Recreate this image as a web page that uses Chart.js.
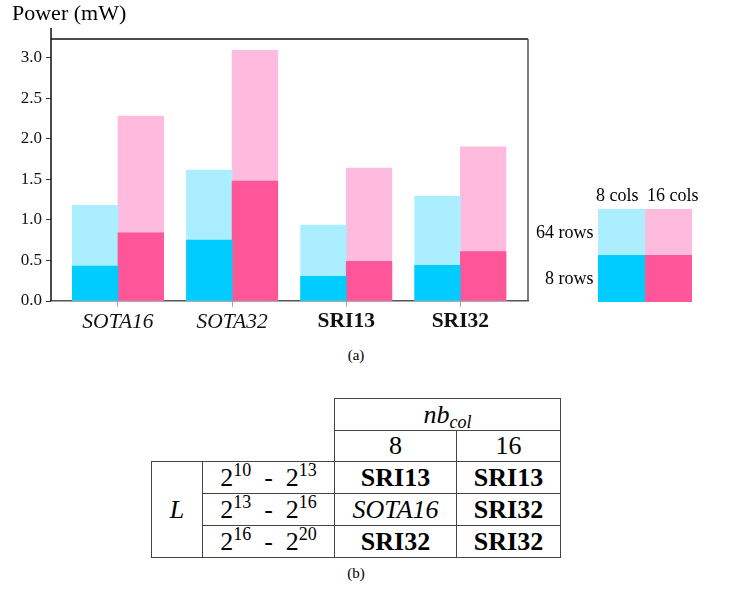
<!DOCTYPE html>
<html>
<head>
<meta charset="utf-8">
<script src="https://cdn.jsdelivr.net/npm/chart.js@4.4.1/dist/chart.umd.min.js"></script>
<style>
  body { margin: 0; width: 730px; height: 599px; background: #fff; position: relative; overflow: hidden; }
  #chart { position: absolute; left: 0; top: 0; }
  .txt { position: absolute; white-space: nowrap; font-family: 'Liberation Serif'; }
  #ylabel { left: 12px; top: 2px; font-size: 22px; line-height: 1; }
  .leg { font-size: 18px; }
  .sw { position: absolute; }
  .cap { font-size: 15px; transform: translateX(-50%); }
  #best { position: absolute; left: 151px; top: 398px; border-collapse: collapse; table-layout: fixed;
          font-family: 'Liberation Serif'; font-size: 26px; }
  #best td { border: 1.5px solid #444; text-align: center; padding: 0; line-height: 1; }
  #best td.blank { border: none; }
  #best sup, #best sub { font-size: 18px; line-height: 0; }
  #best sup { vertical-align: 0.55em; }
  #best sub { vertical-align: -0.25em; }
</style>
</head>
<body>
<canvas id="chart" width="730" height="345"></canvas>
<div class="txt" id="ylabel">Power (mW)</div>
<div id="legend"></div>
<div class="txt cap" style="left:356px; top:347px">(a)</div>
<table id="best"></table>
<div class="txt cap" style="left:356px; top:565px">(b)</div>

<script>
// power per design, 8-row and 64-row arrays, 8 and 16 columns
const categories = ['SOTA16', 'SOTA32', 'SRI13', 'SRI32'];
const rows8cols8 = [0.43, 0.75, 0.305, 0.44];
const rows8cols16 = [0.84, 1.48, 0.49, 0.61];
const rows64cols8 = [1.18, 1.615, 0.935, 1.29];
const rows64cols16 = [2.28, 3.09, 1.64, 1.90];
const yTicks = [0, 0.5, 1.0, 1.5, 2.0, 2.5, 3.0];

// table (b): best design per L range and number of columns
const colCounts = ['8', '16'];
const ranges = [[10, 13], [13, 16], [16, 20]];
const best8 = ['SRI13', 'SOTA16', 'SRI32'];
const best16 = ['SRI13', 'SRI32', 'SRI32'];

const C = {
  blueDark: '#00ccff', blueLight: '#aaeeff',
  pinkDark: '#ff5599', pinkLight: '#ffbbdd'
};

const at = (vals, shift) => vals.map((v, i) => ({ x: i + shift, y: v }));

const framePlugin = {
  id: 'frame',
  afterDraw(chart) {
    const { ctx, chartArea: a } = chart;
    ctx.save();
    ctx.lineWidth = 1.5;
    ctx.strokeStyle = '#111';
    ctx.beginPath();
    ctx.moveTo(a.left, a.top - 11); ctx.lineTo(a.left, a.bottom);
    ctx.moveTo(a.left, a.top); ctx.lineTo(a.right, a.top);
    ctx.stroke();
    ctx.strokeStyle = '#555';
    ctx.beginPath();
    ctx.moveTo(a.right, a.top); ctx.lineTo(a.right, a.bottom);
    ctx.stroke();
    ctx.restore();
  }
};

new Chart(document.getElementById('chart'), {
  type: 'bar',
  data: {
    datasets: [
      { label: '8 rows, 8 cols', data: at(rows8cols8, -0.2), backgroundColor: C.blueDark, order: 0 },
      { label: '8 rows, 16 cols', data: at(rows8cols16, 0.2), backgroundColor: C.pinkDark, order: 0 },
      { label: '64 rows, 8 cols', data: at(rows64cols8, -0.2), backgroundColor: C.blueLight, order: 1 },
      { label: '64 rows, 16 cols', data: at(rows64cols16, 0.2), backgroundColor: C.pinkLight, order: 1 }
    ]
  },
  options: {
    responsive: false,
    animation: false,
    devicePixelRatio: 1,
    grouped: false,
    barPercentage: 1,
    categoryPercentage: 1,
    layout: { padding: { left: 0, top: 39, right: 202, bottom: 0 } },
    plugins: { legend: { display: false }, tooltip: { enabled: false } },
    scales: {
      x: {
        type: 'linear',
        offset: false,
        min: -0.587,
        max: 3.593,
        afterBuildTicks: s => { s.ticks = categories.map((_, i) => ({ value: i })); },
        afterFit: s => { s.height = 44; },
        grid: { drawOnChartArea: false, drawTicks: true, tickLength: 6, color: '#aaa', offset: false },
        border: { color: '#555', width: 1.5 },
        ticks: {
          color: '#111',
          padding: 2,
          callback: v => categories[v],
          font: c => {
            const name = categories[c.index] || '';
            const sota = name.startsWith('SOTA');
            return { family: 'Liberation Serif', size: 21.5, style: sota ? 'italic' : 'normal', weight: sota ? 'normal' : 'bold' };
          }
        }
      },
      y: {
        min: 0,
        max: 3.231,
        afterBuildTicks: s => { s.ticks = yTicks.map(v => ({ value: v })); },
        afterFit: s => { s.width = 51; },
        grid: { drawOnChartArea: false, drawTicks: true, tickLength: 5, color: '#333' },
        border: { display: false },
        ticks: {
          color: '#111',
          padding: 4,
          callback: v => v.toFixed(1),
          font: { family: 'Liberation Serif', size: 17 }
        }
      }
    }
  },
  plugins: [framePlugin]
});

// legend grid on the right
const legend = document.getElementById('legend');
const sw = (x, y, w, h, col) =>
  `<div class="sw" style="left:${x}px;top:${y}px;width:${w}px;height:${h}px;background:${col}"></div>`;
const lab = (x, y, text, right) =>
  `<div class="txt leg" style="${right ? 'right:' + (730 - x) : 'left:' + x}px;top:${y}px">${text}</div>`;
legend.innerHTML =
  sw(598, 209, 48, 46, C.blueLight) + sw(645, 209, 47, 46, C.pinkLight) +
  sw(598, 255, 48, 47, C.blueDark) + sw(645, 255, 47, 47, C.pinkDark) +
  lab(596, 184.5, '8 cols') + lab(647, 184.5, '16 cols') +
  lab(593.5, 222, '64 rows', true) + lab(593.5, 268, '8 rows', true);

// table (b)
const fmt = n => n.startsWith('SOTA') ? `<i>${n}</i>` : `<b>${n}</b>`;
let html = '<colgroup><col style="width:51px"><col style="width:132px">' +
  '<col style="width:122px"><col style="width:104px"></colgroup>';
html += '<tr style="height:32px"><td class="blank"></td><td class="blank"></td>' +
  '<td colspan="2"><i>nb</i><sub><i>col</i></sub></td></tr>';
html += '<tr style="height:31px"><td class="blank"></td><td class="blank"></td>' +
  colCounts.map(c => `<td>${c}</td>`).join('') + '</tr>';
ranges.forEach((r, i) => {
  html += '<tr style="height:32px">' +
    (i === 0 ? `<td rowspan="${ranges.length}"><i>L</i></td>` : '') +
    `<td>2<sup>${r[0]}</sup>&nbsp; -&nbsp; 2<sup>${r[1]}</sup></td>` +
    `<td>${fmt(best8[i])}</td><td>${fmt(best16[i])}</td></tr>`;
});
document.getElementById('best').innerHTML = html;
</script>
</body>
</html>
